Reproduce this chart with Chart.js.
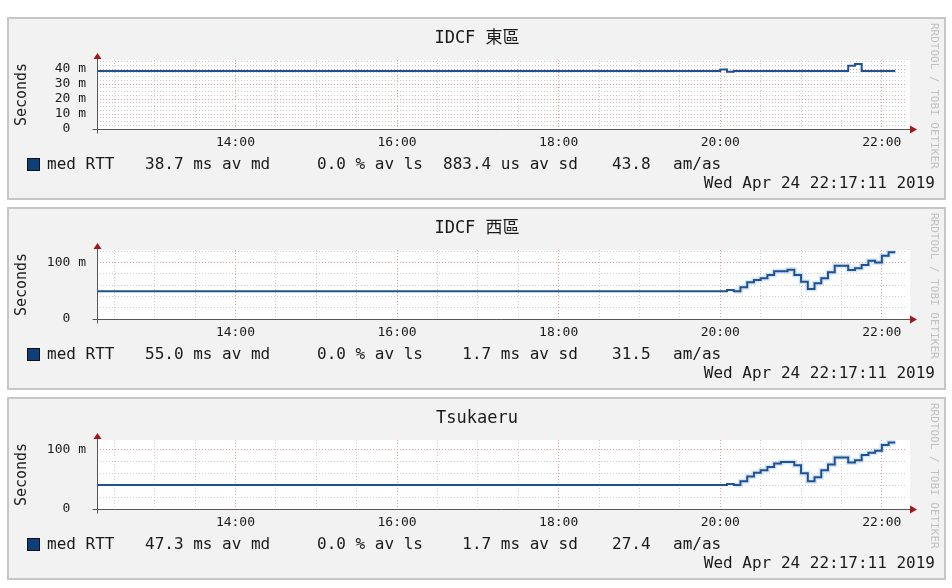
<!DOCTYPE html>
<html>
<head>
<meta charset="utf-8">
<script src="https://cdn.jsdelivr.net/npm/chart.js@4.4.0/dist/chart.umd.min.js"></script>
<style>
  body { margin: 0; background: #fff; font-family: "DejaVu Sans Mono", monospace; color: #1a1a1a; }
  #page { position: relative; width: 952px; height: 588px; overflow: hidden; }
  .graph { position: absolute; left: 0; width: 952px; height: 183px; }
  .box { position: absolute; left: 7px; top: 0; width: 935px; height: 179px; border: 2px solid #c6c6c6; background: #f2f2f2; }
  .graph canvas { position: absolute; left: 0; top: 0; }
  .title { position: absolute; left: 0; width: 954px; top: 10px; text-align: center; font-size: 17px; line-height: 20px;
           font-family: "DejaVu Sans Mono", "Noto Sans CJK TC", monospace; }
  .key { position: absolute; left: 27px; top: 141px; width: 11px; height: 11px; background: #0f3f7a; border: 1px solid #111; }
  .lg { position: absolute; top: 138px; font-size: 16px; line-height: 18px; white-space: pre; }
  .stamp { position: absolute; right: 17px; top: 157px; font-size: 16px; line-height: 18px; white-space: pre; }
  .mark { position: absolute; left: 927px; top: 6px; font-size: 11px; line-height: 14px; writing-mode: vertical-rl; color: #c0c0c0; }
</style>
</head>
<body>
<div id="page"></div>
<script>
// --- DATA ---
const startTime = '12:17:11';
const endTime = '22:17:11';
const tickHours = ['14:00', '16:00', '18:00', '20:00', '22:00'];
const stamp = 'Wed Apr 24 22:17:11 2019';

const titles = ['IDCF 東區', 'IDCF 西區', 'Tsukaeru'];

// median RTT in ms, each value starts at the given time
const eastTimes = ['12:15', '20:00', '20:05', '20:10', '21:35', '21:40', '21:45', '22:10'];
const eastRTT   = [38.7, 39.6, 38.2, 38.7, 42.2, 43.4, 38.7, 38.7];

const westTimes = ['12:15', '20:05', '20:10', '20:15', '20:20', '20:25', '20:30', '20:35', '20:40', '20:50',
                   '20:55', '21:00', '21:05', '21:10', '21:15', '21:20', '21:25', '21:35', '21:40', '21:45',
                   '21:50', '21:55', '22:00', '22:05', '22:10'];
const westRTT   = [49, 51.3, 49, 56, 65, 69, 72, 78, 84.4, 87.3,
                   78, 66, 53, 63, 72, 82.7, 94.3, 86.7, 89.7, 95.6,
                   103, 100, 112, 118, 118];

const tsuTimes = ['12:15', '20:05', '20:10', '20:15', '20:20', '20:25', '20:30', '20:35', '20:40', '20:45',
                  '20:55', '21:00', '21:05', '21:10', '21:15', '21:20', '21:25', '21:35', '21:40', '21:45',
                  '21:50', '21:55', '22:00', '22:05', '22:10'];
const tsuRTT   = [40.5, 42, 40.5, 46.7, 54.7, 61, 65, 70.6, 76.4, 79,
                  73.5, 60.3, 46.7, 53.5, 65, 74.7, 86.7, 78, 82, 90.6,
                  94.5, 98, 107.7, 111.6, 111.6];

const eastStats = ['38.7 ms av md', '0.0 % av ls', '883.4 us av sd', '43.8', 'am/as'];
const westStats = ['55.0 ms av md', '0.0 % av ls', '  1.7 ms av sd', '31.5', 'am/as'];
const tsuStats  = ['47.3 ms av md', '0.0 % av ls', '  1.7 ms av sd', '27.4', 'am/as'];

// y axis range and grid steps per graph (ms)
const yMax   = [46, 122, 116];
const yMinor = [2.5, 20, 20];
const yMajor = [10, 100, 100];

// --- LAYOUT ---
const panelTop = [17, 207, 397];
const legendX = [145, 317, 443, 612, 673];
const monoFont = 'DejaVu Sans Mono';

function toMin(s) {
    const p = s.split(':').map(Number);
    return p[0] * 60 + p[1] + (p[2] || 0) / 60;
}
function hhmm(v) {
    const h = Math.floor(v / 60), m = Math.round(v % 60);
    return String(h).padStart(2, '0') + ':' + String(m).padStart(2, '0');
}

// white plot area, axes with red arrow heads
const frame = {
    id: 'frame',
    beforeDraw(chart) {
        const { ctx, chartArea: a } = chart;
        ctx.save();
        ctx.fillStyle = '#ffffff';
        ctx.fillRect(a.left, a.top, a.right - a.left + 5, a.bottom - a.top);
        ctx.restore();
    },
    afterDatasetsDraw(chart) {
        const { ctx, chartArea: a } = chart;
        const x0 = Math.round(a.left) + 0.5, y0 = Math.round(a.bottom) + 0.5;
        ctx.save();
        ctx.strokeStyle = '#555';
        ctx.lineWidth = 1;
        ctx.beginPath();
        ctx.moveTo(x0, y0 + 4); ctx.lineTo(x0, a.top - 2);
        ctx.moveTo(x0 - 5, y0); ctx.lineTo(a.right + 5, y0);
        ctx.stroke();
        ctx.fillStyle = '#a01818';
        ctx.beginPath();
        ctx.moveTo(x0, a.top - 7); ctx.lineTo(x0 - 4, a.top - 1); ctx.lineTo(x0 + 4, a.top - 1);
        ctx.fill();
        ctx.beginPath();
        ctx.moveTo(a.right + 12, y0); ctx.lineTo(a.right + 5, y0 - 4); ctx.lineTo(a.right + 5, y0 + 4);
        ctx.fill();
        ctx.restore();
    }
};

function buildPanel(i, times, values, stats, smokeFrom) {
    const g = document.createElement('div');
    g.className = 'graph';
    g.style.top = panelTop[i] + 'px';
    g.innerHTML = '<div class="box"></div>' +
        '<canvas width="952" height="183"></canvas>' +
        '<div class="title"></div><div class="key"></div>' +
        '<div class="lg" style="left:47px">med RTT</div>' +
        stats.map((s, k) => '<div class="lg" style="left:' + legendX[k] + 'px">' + s + '</div>').join('') +
        '<div class="stamp">' + stamp + '</div>' +
        '<div class="mark">RRDTOOL / TOBI OETIKER</div>';
    g.querySelector('.title').textContent = titles[i];
    document.getElementById('page').appendChild(g);

    const pts = times.map((t, k) => ({ x: toMin(t), y: values[k] }));
    const datasets = [{
        data: pts, borderColor: '#1f5290', borderWidth: 2, stepped: true, pointRadius: 0, fill: false
    }];
    if (smokeFrom) {
        datasets.push({
            data: pts.filter(p => p.x >= toMin(smokeFrom)),
            borderColor: 'rgba(150, 192, 232, 0.4)', borderWidth: 5, stepped: true, pointRadius: 0, fill: false
        });
    }

    const max = yMax[i], minor = yMinor[i], major = yMajor[i];
    new Chart(g.querySelector('canvas'), {
        type: 'line',
        data: { datasets },
        options: {
            responsive: false,
            animation: false,
            events: [],
            layout: { padding: { left: 12, right: 47, top: 43, bottom: 51 } },
            plugins: { legend: { display: false }, tooltip: { enabled: false } },
            scales: {
                x: {
                    type: 'linear',
                    min: toMin(startTime),
                    max: toMin(endTime),
                    afterFit: s => { s.height = 20; },
                    afterBuildTicks: s => {
                        const t = [];
                        for (let v = Math.ceil(s.min / 30) * 30; v <= s.max; v += 30) t.push({ value: v });
                        s.ticks = t;
                    },
                    ticks: {
                        autoSkip: false, maxRotation: 0, padding: 6, color: '#1a1a1a',
                        font: { family: monoFont, size: 13 },
                        callback: v => tickHours.includes(hhmm(v)) ? hhmm(v) : ''
                    },
                    grid: {
                        drawTicks: false,
                        color: c => c.tick && tickHours.includes(hhmm(c.tick.value)) ? '#e79a9a' : '#cdcdcd'
                    },
                    border: { display: false, dash: [1, 2] }
                },
                y: {
                    min: 0,
                    max: max,
                    afterFit: s => { s.width = 85; },
                    afterBuildTicks: s => {
                        const t = [];
                        for (let k = 0; k * minor <= max; k++) t.push({ value: k * minor });
                        s.ticks = t;
                    },
                    ticks: {
                        autoSkip: false, padding: 11, color: '#1a1a1a',
                        font: { family: monoFont, size: 13 },
                        callback: v => v === 0 ? '0  ' : (v % major === 0 ? v + ' m' : '')
                    },
                    title: {
                        display: true, text: 'Seconds', color: '#1a1a1a',
                        font: { family: monoFont, size: 15 },
                        padding: { top: 1, bottom: 0 }
                    },
                    grid: {
                        drawTicks: false,
                        color: c => c.tick && c.tick.value > 0 && c.tick.value % major === 0 ? '#e79a9a' : '#cdcdcd'
                    },
                    border: { display: false, dash: [1, 2] }
                }
            }
        },
        plugins: [frame]
    });
}

buildPanel(0, eastTimes, eastRTT, eastStats, null);
buildPanel(1, westTimes, westRTT, westStats, '20:10');
buildPanel(2, tsuTimes, tsuRTT, tsuStats, '20:10');
</script>
</body>
</html>
